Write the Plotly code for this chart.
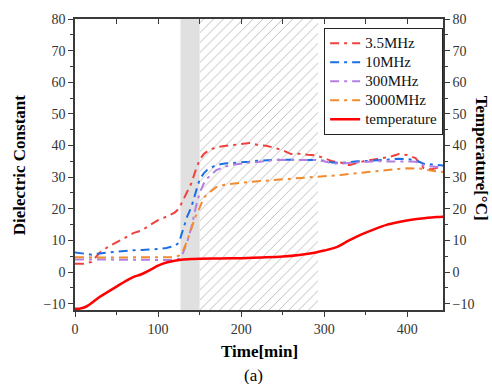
import plotly.graph_objects as go

# ---------------- data ----------------
time_min = [0, 10, 20, 30, 40, 50, 60, 70, 80, 90, 100, 110, 120, 125, 130, 135, 140, 145,
            150, 155, 160, 170, 180, 190, 200, 210, 220, 230, 240, 250, 260, 270, 280, 290,
            300, 310, 320, 330, 340, 350, 360, 370, 380, 390, 400, 410, 415, 420, 430, 443]

eps_3p5MHz = [2.6, 2.6, 3.2, 6.2, 8.0, 9.3, 10.8, 12.3, 13.1, 14.8, 16.4, 17.5, 18.8, 20.0,
              22.8, 25.5, 28.0, 32.0, 35.5, 37.3, 38.3, 39.5, 39.8, 40.0, 40.5, 40.8, 40.2,
              39.9, 39.3, 38.5, 37.3, 37.4, 37.1, 36.9, 36.0, 35.0, 34.6, 33.8, 34.5, 35.2,
              35.6, 36.0, 36.5, 37.3, 37.0, 36.0, 34.5, 32.8, 32.5, 33.5]

eps_10MHz = [6.2, 5.8, 5.5, 5.9, 6.2, 6.5, 6.7, 6.9, 7.0, 7.1, 7.3, 7.6, 8.3, 9.2, 13.0,
             17.5, 20.5, 25.0, 29.3, 31.2, 32.5, 33.8, 34.3, 34.5, 34.6, 34.9, 35.2, 35.4,
             35.5, 35.5, 35.5, 35.5, 35.4, 35.4, 35.2, 34.6, 34.5, 34.8, 35.0, 35.1, 35.3,
             35.5, 35.6, 35.8, 35.7, 35.3, 34.8, 34.2, 34.0, 33.7]

eps_300MHz = [4.0, 4.0, 3.9, 3.9, 3.9, 3.9, 3.9, 3.9, 3.9, 3.9, 3.9, 3.9, 3.8, 4.2, 6.0,
              9.5, 14.0, 20.0, 25.0, 28.0, 29.8, 32.2, 33.3, 33.9, 34.3, 34.6, 34.8, 35.2,
              35.4, 35.4, 35.4, 35.4, 35.4, 35.4, 35.0, 34.3, 34.3, 34.5, 34.7, 34.9, 35.0,
              35.0, 35.0, 35.0, 34.9, 34.9, 34.2, 33.6, 33.4, 33.1]

eps_3000MHz = [4.7, 4.6, 4.6, 4.6, 4.6, 4.6, 4.6, 4.6, 4.6, 4.6, 4.6, 4.6, 4.7, 5.2, 6.8,
               9.8, 13.8, 17.5, 20.3, 23.5, 24.8, 26.8, 27.6, 28.0, 28.2, 28.5, 28.7, 28.9,
               29.1, 29.3, 29.5, 29.6, 29.8, 29.9, 30.1, 30.4, 30.7, 31.0, 31.3, 31.6, 31.9,
               32.2, 32.4, 32.6, 32.8, 32.8, 32.7, 32.5, 32.0, 31.6]

temp_time = [0, 5, 10, 15, 20, 30, 40, 50, 60, 70, 80, 90, 100, 110, 120, 130, 140, 150,
             175, 200, 225, 250, 270, 290, 300, 315, 330, 345, 360, 375, 390, 405, 420, 435, 443]
temperature = [-11.6, -11.6, -11.3, -10.7, -9.8, -7.8, -6.2, -4.6, -3.0, -1.6, -0.7, 0.6,
               2.0, 3.0, 3.6, 4.0, 4.1, 4.2, 4.3, 4.4, 4.6, 4.9, 5.4, 6.2, 6.8, 7.9, 10.0,
               11.9, 13.5, 14.9, 15.8, 16.5, 17.0, 17.4, 17.5]

# shaded phase boundaries [min]: gray band start, hatch start, hatch end
phase_bounds = [127, 150, 293]

series_names = ["3.5MHz", "10MHz", "300MHz", "3000MHz"]
series_values = [eps_3p5MHz, eps_10MHz, eps_300MHz, eps_3000MHz]
series_colors = ["#f0413f", "#1c6fe3", "#b37fe3", "#f28a2e"]
temp_name = "temperature"

x_range = [0, 443]
y_range = [-12, 80]

FONT = "Liberation Serif, Times New Roman, serif"
AXC = "#3a3a3a"
DASH = "9px,5px,3px,5px"


def leg(name):
    return '<span style="font-size:15px">' + name + '</span>'


fig = go.Figure()

# hatched region (pattern-filled bar)
fig.add_trace(go.Bar(
    x=[(phase_bounds[1] + phase_bounds[2]) / 2], y=[y_range[1] - y_range[0]],
    base=[y_range[0]], width=[phase_bounds[2] - phase_bounds[1]],
    marker=dict(color="white", line=dict(width=0),
                pattern=dict(shape="/", fgcolor="#6e6e6e", bgcolor="white",
                             size=7, solidity=0.13)),
    showlegend=False, hoverinfo="skip"))

for name, vals, col in zip(series_names, series_values, series_colors):
    fig.add_trace(go.Scatter(x=time_min, y=vals, name=leg(name), mode="lines",
                             line=dict(color=col, width=2, dash=DASH)))

fig.add_trace(go.Scatter(x=temp_time, y=temperature, name=leg(temp_name), mode="lines",
                         line=dict(color="#ff0000", width=2.5, shape="spline"),
                         yaxis="y2"))

# dummy trace to realise top mirror axis
fig.add_trace(go.Scatter(x=[None], y=[None], xaxis="x2", showlegend=False,
                         hoverinfo="skip"))

fig.add_shape(type="rect", xref="x", yref="y", x0=phase_bounds[0], x1=phase_bounds[1],
              y0=y_range[0], y1=y_range[1], fillcolor="#e0e0e0", line=dict(width=0),
              layer="below")

tickfont = dict(family=FONT, size=14, color="#333")
fig.update_layout(
    width=492, height=384,
    margin=dict(l=75, r=49, t=15, b=74),
    paper_bgcolor="white", plot_bgcolor="white",
    bargap=0,
    showlegend=True,
    legend=dict(x=0.677, y=0.97, xanchor="left", yanchor="top",
                bgcolor="white", bordercolor="#222", borderwidth=1,
                font=dict(family=FONT, size=12, color="#111"),
                tracegroupgap=0),
    xaxis=dict(range=x_range, showgrid=False, zeroline=False, showline=True,
               linecolor=AXC, linewidth=1.5, ticks="outside", ticklen=5, tickwidth=1.2,
               tickcolor=AXC, dtick=100, tick0=0, tickfont=tickfont,
               minor=dict(dtick=50, ticks="outside", ticklen=3, tickcolor=AXC)),
    xaxis2=dict(range=x_range, overlaying="x", side="top", anchor="y", showgrid=False,
                zeroline=False, showline=True, linecolor=AXC, linewidth=1.5,
                ticks="inside", ticklen=5, tickwidth=1.2, tickcolor=AXC, dtick=50, tick0=0,
                showticklabels=False),
    yaxis=dict(range=y_range, showgrid=False, zeroline=False, showline=True,
               linecolor=AXC, linewidth=1.5, ticks="outside", ticklen=5, tickwidth=1.2,
               tickcolor=AXC, dtick=10, tick0=0, tickfont=tickfont,
               minor=dict(dtick=5, ticks="outside", ticklen=3, tickcolor=AXC)),
    yaxis2=dict(range=y_range, overlaying="y", side="right", anchor="x", showgrid=False,
                zeroline=False, showline=True, linecolor=AXC, linewidth=1.5,
                ticks="outside", ticklen=5, tickwidth=1.2, tickcolor=AXC, dtick=10, tick0=0,
                tickfont=tickfont,
                minor=dict(dtick=5, ticks="outside", ticklen=3, tickcolor=AXC)),
)

title_font = dict(family=FONT, size=17, color="#000")
common = dict(xref="paper", yref="paper", showarrow=False, xanchor="center",
              yanchor="middle")
fig.add_annotation(text="<b>Dielectric Constant</b>", x=-0.150, y=0.5, textangle=-90,
                   font=title_font, **common)
fig.add_annotation(text="<b>Temperature[°C]</b>", x=1.103, y=0.52, textangle=90,
                   font=title_font, **common)
fig.add_annotation(text="<b>Time[min]</b>", x=0.5, y=-0.142, font=title_font, **common)
fig.add_annotation(text="(a)", x=0.485, y=-0.226,
                   font=dict(family=FONT, size=17, color="#000"), **common)

fig.write_html("out.html")
